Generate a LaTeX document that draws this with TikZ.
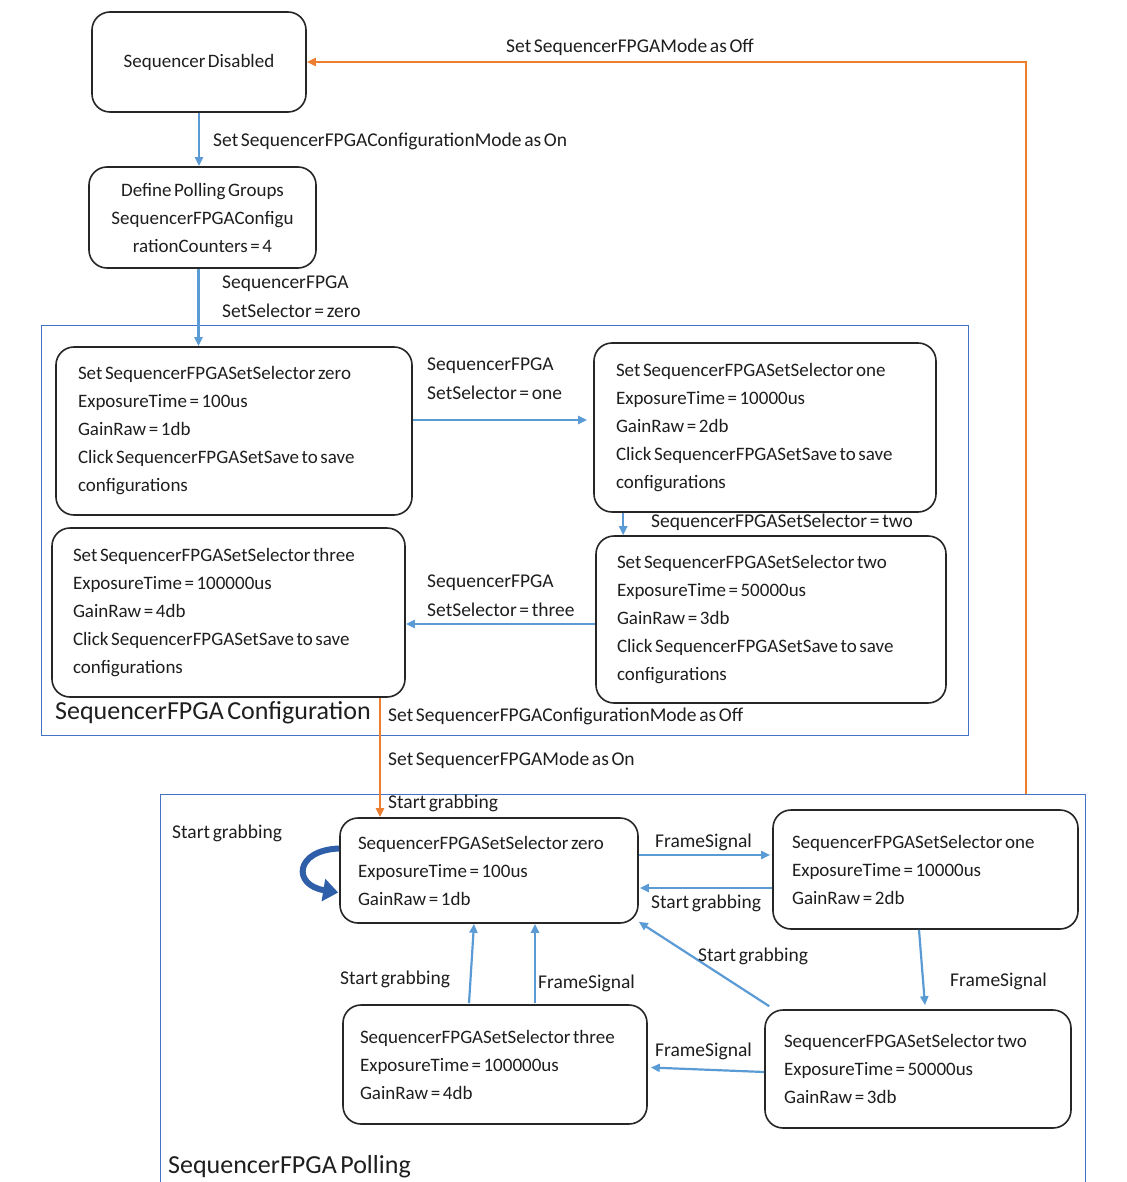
\documentclass[tikz,border=0pt]{standalone}
\usepackage{fontspec}
\setmainfont{Carlito}[WordSpace=0.6]
\usetikzlibrary{arrows.meta,calc}
\definecolor{frameblue}{RGB}{68,114,196}
\definecolor{arrblue}{RGB}{91,155,213}
\definecolor{orng}{RGB}{237,125,49}
\definecolor{loopblue}{RGB}{46,95,168}
\definecolor{txt}{RGB}{30,30,30}
\tikzset{
  box/.style={draw=black!85, line width=1.6pt, rounded corners=18pt, inner ysep=0pt,
    align=flush left, font=\fontsize{19}{28}\selectfont, text=txt},
  frame/.style={draw=frameblue, line width=1pt, inner sep=0pt},
  barrow/.style={draw=arrblue, line width=2.2pt, -{Triangle[length=9pt,width=8pt]}},
  oarrow/.style={draw=orng, line width=2.2pt, -{Triangle[length=9pt,width=8pt]}},
  lbl/.style={anchor=west, inner sep=0pt, align=left, font=\fontsize{19.5}{29}\selectfont, text=txt},
  flbl/.style={anchor=west, inner sep=0pt, font=\fontsize{26}{30}\selectfont, text=txt},
}
\begin{document}
\begin{tikzpicture}[x=1pt,y=-1pt]
\useasboundingbox (0,0) rectangle (1126,1182);
% frames
\node[frame, minimum width=927pt, minimum height=410pt] (CF) at (504.5,530) {};
\node[frame, minimum width=925pt, minimum height=406pt] (PF) at (622.5,997) {};
\node[flbl] (CFl) at (55,713) {SequencerFPGA Configuration};
\node[flbl] (PFl) at (168,1167) {SequencerFPGA Polling};
% top boxes
\node[box, minimum width=214pt, minimum height=100pt, align=center] (SD) at (199,62) {Sequencer Disabled};
\node[box, minimum width=227pt, minimum height=101pt, align=center] (DPG) at (202.5,217.5) {Define Polling Groups\\SequencerFPGAConfigu\\rationCounters = 4};
% configuration boxes
\node[box, minimum width=356pt, minimum height=168pt, inner xsep=22pt, text width=312pt] (C0) at (234,431) {Set SequencerFPGASetSelector zero\\ExposureTime = 100us\\GainRaw = 1db\\Click SequencerFPGASetSave to save\\configurations};
\node[box, minimum width=342pt, minimum height=169pt, inner xsep=22pt, text width=298pt] (C1) at (765,427.5) {Set SequencerFPGASetSelector one\\ExposureTime = 10000us\\GainRaw = 2db\\Click SequencerFPGASetSave to save\\configurations};
\node[box, minimum width=353pt, minimum height=169pt, inner xsep=21pt, text width=311pt] (C3) at (228.5,612.5) {Set SequencerFPGASetSelector three\\ExposureTime = 100000us\\GainRaw = 4db\\Click SequencerFPGASetSave to save\\configurations};
\node[box, minimum width=350pt, minimum height=167pt, inner xsep=21pt, text width=308pt] (C2) at (771,619.5) {Set SequencerFPGASetSelector two\\ExposureTime = 50000us\\GainRaw = 3db\\Click SequencerFPGASetSave to save\\configurations};
% polling boxes
\node[box, minimum width=298pt, minimum height=105pt, inner xsep=18pt, text width=262pt] (P0) at (489,870.5) {SequencerFPGASetSelector zero\\ExposureTime = 100us\\GainRaw = 1db};
\node[box, minimum width=305pt, minimum height=119pt, inner xsep=19pt, text width=267pt] (P1) at (925.5,869.5) {SequencerFPGASetSelector one\\ExposureTime = 10000us\\GainRaw = 2db};
\node[box, minimum width=304pt, minimum height=119pt, inner xsep=17pt, text width=270pt] (P3) at (495,1064.5) {SequencerFPGASetSelector three\\ExposureTime = 100000us\\GainRaw = 4db};
\node[box, minimum width=306pt, minimum height=118pt, inner xsep=19pt, text width=268pt] (P2) at (918,1069) {SequencerFPGASetSelector two\\ExposureTime = 50000us\\GainRaw = 3db};
% arrows top
\draw[barrow] (SD.south) -- (SD.south |- DPG.north);
\node[lbl] (l1) at (213,141) {Set SequencerFPGAConfigurationMode as On};
\draw[barrow] ($(DPG.south)+(-4,0)$) coordinate (d0) -- (d0 |- C0.north);
\node[lbl] (l2) at (222,296.5) {SequencerFPGA\\SetSelector = zero};
\draw[barrow] ($(C0.east)+(0,-11)$) -- ($(C1.west)+(-6,-7.5)$);
\node[lbl] (l3) at (427,379) {SequencerFPGA\\SetSelector = one};
\draw[barrow] ($(C1.south west)+(30,0)$) coordinate (c1s) -- (c1s |- C2.north);
\node[lbl] (l4) at (651,522) {SequencerFPGASetSelector = two};
\draw[barrow] ($(C2.west)+(0,4.5)$) -- ($(C3.east)+(0,11.5)$);
\node[lbl] (l5) at (427,595.5) {SequencerFPGA\\SetSelector = three};
% orange arrows
\coordinate (ox) at (380,0);
\draw[oarrow] (C3.south -| ox) -- (P0.north -| ox);
\node[lbl] (l6) at (388,716) {Set SequencerFPGAConfigurationMode as Off};
\node[lbl] (l7) at (388,760) {Set SequencerFPGAMode as On};
\node[lbl] (l8) at (388,803) {Start grabbing};
\coordinate (oy) at (1026,0);
\draw[oarrow] (PF.north -| oy) |- (SD.east);
\node[lbl] (l9) at (506,47) {Set SequencerFPGAMode as Off};
% self loop
\draw[draw=loopblue, line width=6pt, -{Triangle[length=15pt,width=22pt]}]
  ($(P0.west)+(0,-22)$) .. controls (295,850) and (292,885) .. ($(P0.west)+(-1,22)$);
\node[lbl] (l10) at (172,833) {Start grabbing};
% polling arrows
\draw[barrow] ($(P0.east)+(0,-15.5)$) -- ($(P1.west)+(-2,-14.5)$);
\node[lbl] (l11) at (655,842) {FrameSignal};
\draw[barrow] ($(P1.west)+(0,18.5)$) -- ($(P0.east)+(1,17.5)$);
\node[lbl] (l12) at (651,903) {Start grabbing};
\draw[barrow] ($(P1.south)+(-6.5,0)$) -- ($(P2.north)+(7,-4)$);
\node[lbl] (l13) at (950,981) {FrameSignal};
\draw[barrow] ($(P2.north west)+(5,-3)$) -- ($(P0.south east)+(0,-2)$);
\node[lbl] (l14) at (698,956) {Start grabbing};
\draw[barrow] ($(P2.west)+(0,3)$) -- ($(P3.east)+(3,3)$);
\node[lbl] (l15) at (655,1051) {FrameSignal};
\draw[barrow] ($(P3.north)+(-26,-1)$) -- ($(P0.south)+(-15,0)$);
\node[lbl] (l16) at (340,979) {Start grabbing};
\draw[barrow] ($(P3.north)+(40,-1)$) -- ($(P0.south)+(46,0)$);
\node[lbl] (l17) at (538,983) {FrameSignal};
\end{tikzpicture}
\end{document}
